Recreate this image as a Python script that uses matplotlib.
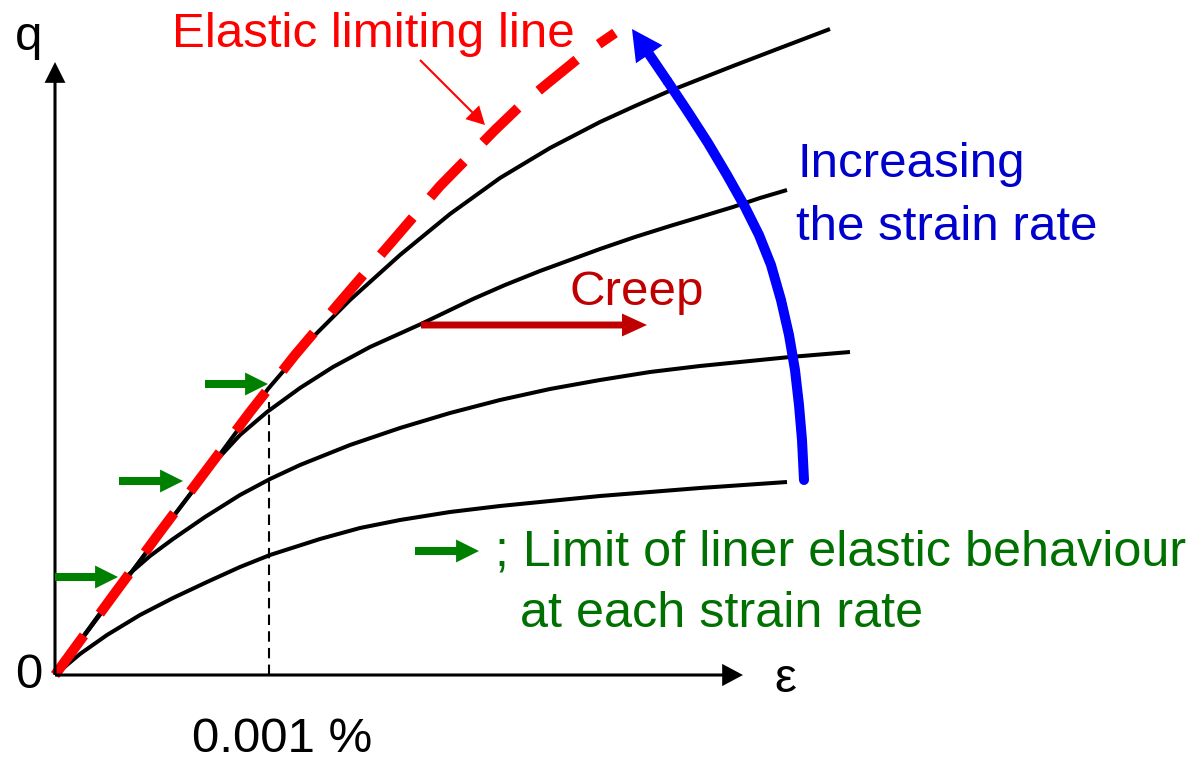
import matplotlib
matplotlib.use("Agg")
import matplotlib.pyplot as plt
from matplotlib.patches import FancyArrowPatch

plt.rcParams['font.family'] = ['Liberation Sans', 'DejaVu Sans']

# stress-strain curves (eps, q); origin at the axes corner
curve1_eps = [0, 55, 105, 160, 213, 255, 295, 345, 395, 445, 495, 545, 580, 612, 645, 678, 725, 775]
curve1_q = [0, 74, 141, 214, 286, 335, 375, 420, 461, 497, 527, 553, 569, 583, 596, 609, 627, 646]

curve2_eps = [0, 55, 105, 160, 185, 212, 245, 278, 315, 366, 418, 450, 485, 515, 545, 580, 615,
              645, 678, 705, 732]
curve2_q = [0, 74, 141, 213, 240, 263, 287, 308, 328, 351, 376, 390, 404, 415, 426, 438, 449,
            458, 468, 477, 485]

curve3_eps = [0, 35, 72, 95, 118, 150, 185, 215, 245, 295, 345, 395, 445, 495, 545, 595, 645, 695,
              735, 795]
curve3_q = [0, 48, 99, 119, 136, 158, 180, 196, 210, 230, 247, 262, 275, 286, 295, 303, 309, 314,
            318, 323]

curve4_eps = [0, 25, 52, 85, 118, 152, 185, 215, 265, 305, 345, 395, 445, 495, 545, 595, 645, 732]
curve4_q = [0, 21, 40, 60, 77, 93, 108, 120, 136, 147, 155, 163, 169, 174, 179, 183, 187, 193]

# elastic limiting line
elastic_eps = [0, 57, 105, 150, 195, 240, 285, 335, 385, 440, 465, 493, 525, 560]
elastic_q = [0, 78, 143, 203, 263, 320, 373, 431, 489, 545, 569, 592, 618, 642]

# "increasing the strain rate" arrow, last point is the tip
rate_eps = [749, 747, 744, 740, 734, 726, 716, 704, 690, 672, 653, 633, 613, 577]
rate_q = [195, 235, 270, 305, 340, 375, 410, 440, 468, 500, 532, 563, 593, 646]

# limit of linear elastic behaviour markers (start, tip)
limit_arrows = [((0, 98), (63, 98)), ((64, 194), (128, 194)), ((150, 291), (213, 291))]
legend_arrow = ((360, 124), (424, 124))
creep_arrow = ((366, 350), (592, 350))
pointer_arrow = ((365, 615), (430, 550))

eps_ref = 214      # 0.001 % strain
q_ref = 273
eps_max = 688
q_max = 613

fig = plt.figure(figsize=(11.89, 7.63), dpi=100)
ax = fig.add_axes([0, 0, 1, 1])
ax.set_xlim(-55, 1134)
ax.set_ylim(-88, 675)
ax.axis('off')

fs = 35.5


def arrow(p0, p1, color, tail, hl, hw, z=5):
    a = FancyArrowPatch(p0, p1, arrowstyle='simple,head_length=%g,head_width=%g,tail_width=%g' % (hl, hw, tail),
                        mutation_scale=1, lw=0, color=color, zorder=z, shrinkA=0, shrinkB=0)
    ax.add_patch(a)


# axes
arrow((0, 0), (0, q_max), 'black', 2.2, 15, 15)
arrow((0, 0), (eps_max, 0), 'black', 2.2, 15, 16)

ax.plot([eps_ref, eps_ref], [0, q_ref], color='black', lw=1.5, dashes=(5, 3), zorder=1)

for e, q in [(curve1_eps, curve1_q), (curve2_eps, curve2_q), (curve3_eps, curve3_q), (curve4_eps, curve4_q)]:
    ax.plot(e, q, color='black', lw=2.9, solid_joinstyle='round', solid_capstyle='butt', zorder=2)

ax.plot(elastic_eps, elastic_q, color='#FF0000', lw=7.2, dashes=(4.9, 2.7), dash_capstyle='butt',
        dash_joinstyle='round', zorder=3)

# blue curved arrow
ax.plot(rate_eps[:-1], rate_q[:-1], color='#0000FF', lw=7.2, solid_capstyle='round',
        solid_joinstyle='round', zorder=4)
arrow((rate_eps[-2], rate_q[-2]), (rate_eps[-1], rate_q[-1]), '#0000FF', 7.2, 22, 23)

for p0, p1 in limit_arrows:
    arrow(p0, p1, '#008000', 5.8, 16.5, 16.5)
arrow(legend_arrow[0], legend_arrow[1], '#008000', 5.8, 16.5, 16.5)
arrow(creep_arrow[0], creep_arrow[1], '#C00000', 5.0, 18, 16.5)
arrow(pointer_arrow[0], pointer_arrow[1], '#FF0000', 1.5, 13, 14)

# labels
ax.text(-26, 638, 'q', fontsize=fs, ha='center', va='center')
ax.text(-26, -1, '0', fontsize=fs, ha='center', va='center')
ax.text(730, -5, 'ε', fontsize=fs, ha='center', va='center')
ax.text(227, -65, '0.001 %', fontsize=fs, ha='center', va='center')
ax.text(117, 628, 'Elastic limiting line', fontsize=fs, color='#FF0000', ha='left', va='baseline')
ax.text(515, 370, 'Creep', fontsize=fs, color='#C00000', ha='left', va='baseline')
ax.text(743, 498, 'Increasing', fontsize=fs, color='#0000CC', ha='left', va='baseline')
ax.text(741, 435, 'the strain rate', fontsize=fs, color='#0000CC', ha='left', va='baseline')
ax.text(440, 109, '; Limit of liner elastic behaviour', fontsize=36.3, color='#007000',
        ha='left', va='baseline')
ax.text(465, 48, 'at each strain rate', fontsize=36.3, color='#007000',
        ha='left', va='baseline')

fig.savefig('out.png', dpi=100)
